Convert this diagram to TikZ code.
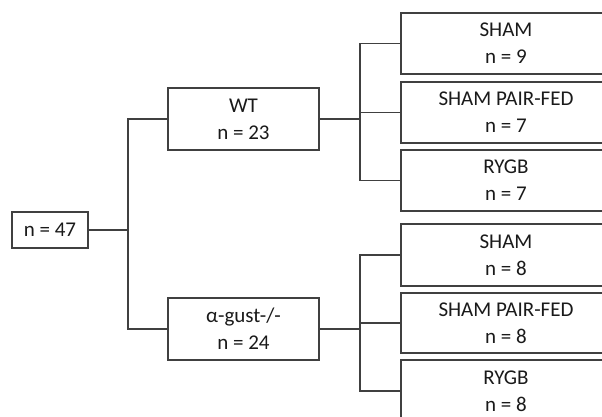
\documentclass[tikz,border=0pt]{standalone}
\usepackage{fontspec}
\setmainfont{Carlito}
\begin{document}
\begin{tikzpicture}[x=1bp,y=-1bp,
  box/.style={draw=boxgray,line width=1.4bp,rectangle,inner sep=0pt,
    align=center,text=textgray,font=\fontsize{21bp}{27bp}\selectfont},
  link/.style={draw=boxgray,line width=1.4bp}]
\definecolor{boxgray}{HTML}{404040}
\definecolor{textgray}{HTML}{1A1A1A}
\clip (0,0) rectangle (602,416);
\fill[white] (0,0) rectangle (602,416);

% root
\node[box,minimum width=76bp,minimum height=36bp] (root) at (50,230) {n = 47};

% genotype groups
\node[box,minimum width=151bp,minimum height=62bp] (wt) at (243.5,119) {WT\\n = 23};
\node[box,minimum width=151bp,minimum height=62bp] (ag) at (243.5,329) {α-gust-/-\\n = 24};

% treatment groups (boxes run past the right and bottom edge)
\node[box,minimum width=210bp,minimum height=61bp] (w1) at (506,43.5) {SHAM\\n = 9};
\node[box,minimum width=210bp,minimum height=61bp] (w2) at (506,112.5) {SHAM PAIR-FED\\n = 7};
\node[box,minimum width=210bp,minimum height=61bp] (w3) at (506,180.5) {RYGB\\n = 7};
\node[box,minimum width=210bp,minimum height=62bp] (a1) at (506,255) {SHAM\\n = 8};
\node[box,minimum width=210bp,minimum height=60bp] (a2) at (506,323) {SHAM PAIR-FED\\n = 8};
\node[box,minimum width=210bp,minimum height=62bp] (a3) at (506,391) {RYGB\\n = 8};

% junctions
\coordinate (jr) at (128,230);
\coordinate (jw) at (360,119);
\coordinate (ja) at (360,329);

% connectors
\draw[link] (root.east) -- (jr);
\draw[link] (jr) |- (wt.west);
\draw[link] (jr) |- (ag.west);
\draw[link] (wt.east) -- (jw);
\foreach \b in {w1,w2,w3} \draw[link] (jw) |- (\b.west);
\draw[link] (ag.east) -- (ja);
\foreach \b in {a1,a2,a3} \draw[link] (ja) |- (\b.west);
\end{tikzpicture}
\end{document}
